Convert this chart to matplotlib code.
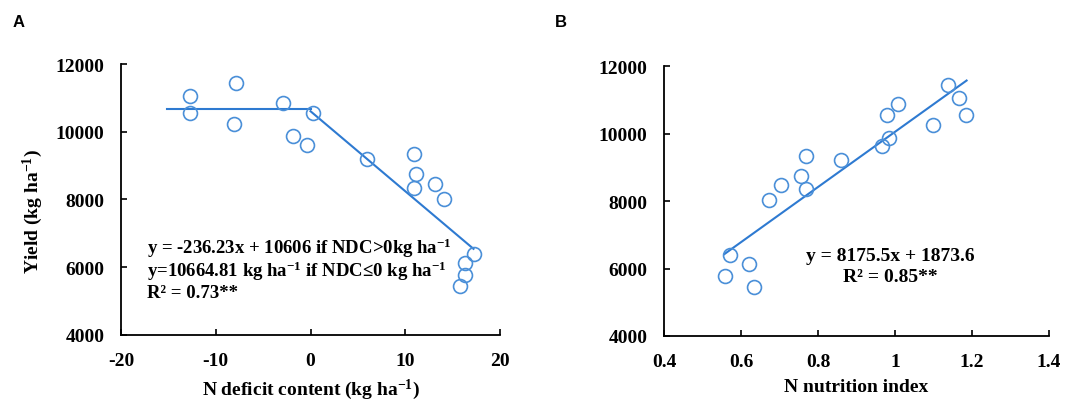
import numpy as np
import matplotlib
matplotlib.use("Agg")
import matplotlib.pyplot as plt

# values
ndc = [-12.7, -12.7, -7.9, -8.1, -2.9, -1.8, -0.4, 0.3, 6.0, 10.9,
       11.1, 10.9, 13.1, 14.1, 17.2, 16.3, 16.3, 15.8]
yield_a = [11044, 10552, 11438, 10227, 10857, 9862, 9616, 10542, 9202, 9350,
           8739, 8345, 8453, 8010, 6384, 6138, 5783, 5458]

nni = [0.558, 0.571, 0.622, 0.634, 0.673, 0.705, 0.757, 0.768, 0.769, 0.860,
       0.967, 0.985, 0.979, 1.008, 1.100, 1.139, 1.165, 1.184]
yield_b = [5778, 6390, 6143, 5462, 8020, 8464, 8751, 9343, 8346, 9215,
           9640, 9877, 10558, 10864, 10242, 11437, 11062, 10548]

# fitted models
plateau = 10664.81
slope_a, icpt_a = -236.23, 10606
plateau_x = [-15.1, 0]
slope_x = [0, 17.2]
slope_b, icpt_b = 8175.5, 1873.6
fit_b_x = [0.557, 1.186]

mcol = "#4a8fd8"
lcol = "#2e7ad1"

plt.rcParams["font.family"] = "Liberation Serif"
plt.rcParams["font.weight"] = "bold"
plt.rcParams["axes.unicode_minus"] = False
plt.rcParams["mathtext.fontset"] = "custom"
plt.rcParams["mathtext.rm"] = "Liberation Serif:bold"
plt.rcParams["mathtext.bf"] = "Liberation Serif:bold"
plt.rcParams["mathtext.default"] = "regular"

fig = plt.figure(figsize=(10.84, 4.02), dpi=100)
axA = fig.add_axes([0.1116, 0.1642, 0.3497, 0.6741])
axB = fig.add_axes([0.6125, 0.1617, 0.3552, 0.6716])


def style(ax):
    for s in ["top", "right"]:
        ax.spines[s].set_visible(False)
    for s in ["left", "bottom"]:
        ax.spines[s].set_linewidth(1.3)
    ax.tick_params(direction="in", length=4, width=1.2, labelsize=14)
    ax.tick_params(axis="y", pad=12)
    ax.tick_params(axis="x", pad=12)
    ax.set_ylim(4000, 12000)
    ax.set_yticks([4000, 6000, 8000, 10000, 12000])
    for t in ax.get_xticklabels() + ax.get_yticklabels():
        t.set_fontweight("bold")


# panel A
axA.plot(plateau_x, [plateau, plateau], color=lcol, lw=1.5)
axA.plot(slope_x, [slope_a * v + icpt_a for v in slope_x], color=lcol, lw=1.5)
axA.plot(ndc, yield_a, "o", mfc="none", mec=mcol, mew=1.2, ms=10)
axA.set_xlim(-20, 20)
axA.set_xticks([-20, -10, 0, 10, 20])
style(axA)
axA.set_xlabel("N deficit content (kg ha$^{-1}$)", fontsize=14, fontweight="bold", labelpad=6)
axA.set_ylabel("Yield (kg ha$^{-1}$)", fontsize=14, fontweight="bold", labelpad=0)
axA.yaxis.set_label_coords(-0.2, 0.46)
axA.text(-17.25, 6600, "y = -236.23x + 10606 if NDC>0kg ha$^{-1}$", fontsize=13.5,
         fontweight="bold", va="center")
axA.text(-17.25, 5920, "y=10664.81 kg ha$^{-1}$ if NDC\u22640 kg ha$^{-1}$", fontsize=13.5,
         fontweight="bold", va="center")
axA.text(-17.25, 5240, "R\u00b2 = 0.73**", fontsize=13.5, fontweight="bold", va="center")

# panel B
axB.plot(fit_b_x, [slope_b * v + icpt_b for v in fit_b_x], color=lcol, lw=1.5)
axB.plot(nni, yield_b, "o", mfc="none", mec=mcol, mew=1.2, ms=10)
axB.set_xlim(0.4, 1.4)
axB.set_xticks([0.4, 0.6, 0.8, 1.0, 1.2, 1.4])
axB.set_xticklabels(["0.4", "0.6", "0.8", "1", "1.2", "1.4"])
style(axB)
axB.set_xlabel("N nutrition index", fontsize=14, fontweight="bold", labelpad=6)
axB.text(0.987, 6400, "y = 8175.5x + 1873.6", fontsize=14, fontweight="bold",
         ha="center", va="center")
axB.text(0.987, 5750, "R\u00b2 = 0.85**", fontsize=14, fontweight="bold",
         ha="center", va="center")

fig.text(0.012, 0.962, "A", fontsize=12, fontweight="bold", family="Liberation Sans", va="top")
fig.text(0.512, 0.962, "B", fontsize=12, fontweight="bold", family="Liberation Sans", va="top")

fig.savefig("out.png", dpi=100)
